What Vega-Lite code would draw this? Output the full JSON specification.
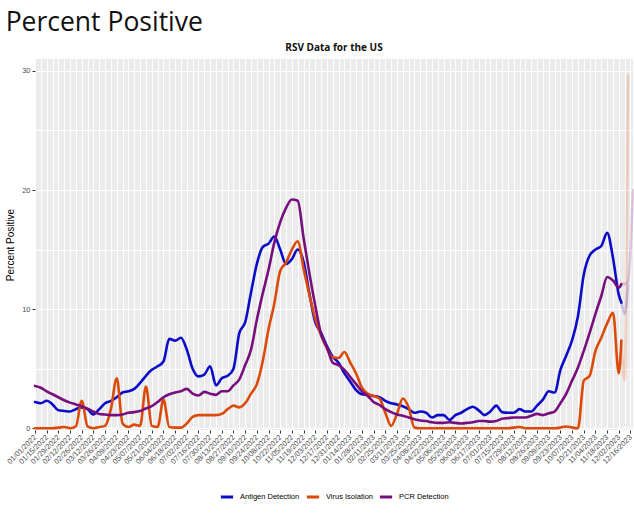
{
  "$schema": "https://vega.github.io/schema/vega-lite/v6.json",
  "padding": {"left": 5, "top": 10, "right": 0, "bottom": 5},
  "background": "white",
  "title": {"text": "Percent Positive", "anchor": "start", "font": "Open Sans", "fontSize": 26.5, "fontWeight": "normal", "color": "#111111", "offset": 6.5, "frame": "bounds"},
  "config": {"view": {"fill": "#EBEBEB", "stroke": null}, "font": "Liberation Sans"},
  "vconcat": [
    {
      "title": {"text": "RSV Data for the US", "anchor": "middle", "font": "Open Sans", "fontSize": 10, "fontWeight": "bold", "color": "#111111", "offset": 6},
      "width": 598,
      "height": 371,
      "data": {"values": [
        {"d": "2022-01-01", "Antigen Detection": 2.2, "Virus Isolation": 0, "PCR Detection": 3.55, "st": "final"},
        {"d": "2022-01-08", "Antigen Detection": 2.1, "Virus Isolation": 0, "PCR Detection": 3.4, "st": "final"},
        {"d": "2022-01-15", "Antigen Detection": 2.3, "Virus Isolation": 0, "PCR Detection": 3.1, "st": "final"},
        {"d": "2022-01-22", "Antigen Detection": 2.0, "Virus Isolation": 0, "PCR Detection": 2.85, "st": "final"},
        {"d": "2022-01-29", "Antigen Detection": 1.5, "Virus Isolation": 0.05, "PCR Detection": 2.6, "st": "final"},
        {"d": "2022-02-05", "Antigen Detection": 1.45, "Virus Isolation": 0.1, "PCR Detection": 2.35, "st": "final"},
        {"d": "2022-02-12", "Antigen Detection": 1.4, "Virus Isolation": 0, "PCR Detection": 2.15, "st": "final"},
        {"d": "2022-02-19", "Antigen Detection": 1.6, "Virus Isolation": 0.15, "PCR Detection": 2.0, "st": "final"},
        {"d": "2022-02-26", "Antigen Detection": 1.75, "Virus Isolation": 2.3, "PCR Detection": 1.85, "st": "final"},
        {"d": "2022-03-05", "Antigen Detection": 1.6, "Virus Isolation": 0.15, "PCR Detection": 1.65, "st": "final"},
        {"d": "2022-03-12", "Antigen Detection": 1.15, "Virus Isolation": 0, "PCR Detection": 1.4, "st": "final"},
        {"d": "2022-03-19", "Antigen Detection": 1.6, "Virus Isolation": 0.1, "PCR Detection": 1.2, "st": "final"},
        {"d": "2022-03-26", "Antigen Detection": 2.1, "Virus Isolation": 0.2, "PCR Detection": 1.15, "st": "final"},
        {"d": "2022-04-02", "Antigen Detection": 2.3, "Virus Isolation": 1.6, "PCR Detection": 1.1, "st": "final"},
        {"d": "2022-04-09", "Antigen Detection": 2.6, "Virus Isolation": 4.2, "PCR Detection": 1.1, "st": "final"},
        {"d": "2022-04-16", "Antigen Detection": 3.0, "Virus Isolation": 0.4, "PCR Detection": 1.15, "st": "final"},
        {"d": "2022-04-23", "Antigen Detection": 3.1, "Virus Isolation": 0.1, "PCR Detection": 1.3, "st": "final"},
        {"d": "2022-04-30", "Antigen Detection": 3.3, "Virus Isolation": 0.3, "PCR Detection": 1.35, "st": "final"},
        {"d": "2022-05-07", "Antigen Detection": 3.8, "Virus Isolation": 0.2, "PCR Detection": 1.45, "st": "final"},
        {"d": "2022-05-14", "Antigen Detection": 4.4, "Virus Isolation": 3.5, "PCR Detection": 1.65, "st": "final"},
        {"d": "2022-05-21", "Antigen Detection": 4.9, "Virus Isolation": 0.2, "PCR Detection": 1.85, "st": "final"},
        {"d": "2022-05-28", "Antigen Detection": 5.2, "Virus Isolation": 0.1, "PCR Detection": 2.2, "st": "final"},
        {"d": "2022-06-04", "Antigen Detection": 5.6, "Virus Isolation": 2.4, "PCR Detection": 2.6, "st": "final"},
        {"d": "2022-06-11", "Antigen Detection": 7.5, "Virus Isolation": 0.1, "PCR Detection": 2.85, "st": "final"},
        {"d": "2022-06-18", "Antigen Detection": 7.35, "Virus Isolation": 0.05, "PCR Detection": 3.0, "st": "final"},
        {"d": "2022-06-25", "Antigen Detection": 7.6, "Virus Isolation": 0.05, "PCR Detection": 3.1, "st": "final"},
        {"d": "2022-07-02", "Antigen Detection": 6.6, "Virus Isolation": 0.4, "PCR Detection": 3.3, "st": "final"},
        {"d": "2022-07-09", "Antigen Detection": 5.0, "Virus Isolation": 0.95, "PCR Detection": 2.9, "st": "final"},
        {"d": "2022-07-16", "Antigen Detection": 4.35, "Virus Isolation": 1.1, "PCR Detection": 2.75, "st": "final"},
        {"d": "2022-07-23", "Antigen Detection": 4.5, "Virus Isolation": 1.1, "PCR Detection": 3.05, "st": "final"},
        {"d": "2022-07-30", "Antigen Detection": 5.2, "Virus Isolation": 1.1, "PCR Detection": 2.9, "st": "final"},
        {"d": "2022-08-06", "Antigen Detection": 3.6, "Virus Isolation": 1.1, "PCR Detection": 2.8, "st": "final"},
        {"d": "2022-08-13", "Antigen Detection": 4.2, "Virus Isolation": 1.2, "PCR Detection": 3.1, "st": "final"},
        {"d": "2022-08-20", "Antigen Detection": 4.4, "Virus Isolation": 1.6, "PCR Detection": 3.1, "st": "final"},
        {"d": "2022-08-27", "Antigen Detection": 5.0, "Virus Isolation": 1.9, "PCR Detection": 3.6, "st": "final"},
        {"d": "2022-09-03", "Antigen Detection": 8.0, "Virus Isolation": 1.75, "PCR Detection": 4.1, "st": "final"},
        {"d": "2022-09-10", "Antigen Detection": 8.9, "Virus Isolation": 2.1, "PCR Detection": 5.3, "st": "final"},
        {"d": "2022-09-17", "Antigen Detection": 11.4, "Virus Isolation": 2.9, "PCR Detection": 6.6, "st": "final"},
        {"d": "2022-09-24", "Antigen Detection": 13.8, "Virus Isolation": 3.7, "PCR Detection": 9.1, "st": "final"},
        {"d": "2022-10-01", "Antigen Detection": 15.2, "Virus Isolation": 5.6, "PCR Detection": 11.3, "st": "final"},
        {"d": "2022-10-08", "Antigen Detection": 15.5, "Virus Isolation": 8.3, "PCR Detection": 13.3, "st": "final"},
        {"d": "2022-10-15", "Antigen Detection": 16.1, "Virus Isolation": 10.5, "PCR Detection": 15.6, "st": "final"},
        {"d": "2022-10-22", "Antigen Detection": 15.0, "Virus Isolation": 13.2, "PCR Detection": 17.3, "st": "final"},
        {"d": "2022-10-29", "Antigen Detection": 13.8, "Virus Isolation": 13.9, "PCR Detection": 18.5, "st": "final"},
        {"d": "2022-11-05", "Antigen Detection": 14.2, "Virus Isolation": 15.0, "PCR Detection": 19.2, "st": "final"},
        {"d": "2022-11-12", "Antigen Detection": 15.0, "Virus Isolation": 15.7, "PCR Detection": 19.1, "st": "final"},
        {"d": "2022-11-19", "Antigen Detection": 14.0, "Virus Isolation": 13.4, "PCR Detection": 16.0, "st": "final"},
        {"d": "2022-11-26", "Antigen Detection": 11.3, "Virus Isolation": 11.2, "PCR Detection": 13.0, "st": "final"},
        {"d": "2022-12-03", "Antigen Detection": 8.9, "Virus Isolation": 9.2, "PCR Detection": 10.3, "st": "final"},
        {"d": "2022-12-10", "Antigen Detection": 8.0, "Virus Isolation": 7.8, "PCR Detection": 7.9, "st": "final"},
        {"d": "2022-12-17", "Antigen Detection": 6.9, "Virus Isolation": 6.7, "PCR Detection": 6.8, "st": "final"},
        {"d": "2022-12-24", "Antigen Detection": 6.0, "Virus Isolation": 5.95, "PCR Detection": 5.5, "st": "final"},
        {"d": "2022-12-31", "Antigen Detection": 5.5, "Virus Isolation": 5.9, "PCR Detection": 5.3, "st": "final"},
        {"d": "2023-01-07", "Antigen Detection": 4.6, "Virus Isolation": 6.4, "PCR Detection": 4.9, "st": "final"},
        {"d": "2023-01-14", "Antigen Detection": 3.9, "Virus Isolation": 5.5, "PCR Detection": 4.3, "st": "final"},
        {"d": "2023-01-21", "Antigen Detection": 3.2, "Virus Isolation": 4.6, "PCR Detection": 3.7, "st": "final"},
        {"d": "2023-01-28", "Antigen Detection": 2.85, "Virus Isolation": 3.4, "PCR Detection": 3.1, "st": "final"},
        {"d": "2023-02-04", "Antigen Detection": 2.8, "Virus Isolation": 2.9, "PCR Detection": 2.7, "st": "final"},
        {"d": "2023-02-11", "Antigen Detection": 2.7, "Virus Isolation": 2.7, "PCR Detection": 2.2, "st": "final"},
        {"d": "2023-02-18", "Antigen Detection": 2.6, "Virus Isolation": 2.5, "PCR Detection": 1.95, "st": "final"},
        {"d": "2023-02-25", "Antigen Detection": 2.3, "Virus Isolation": 1.3, "PCR Detection": 1.6, "st": "final"},
        {"d": "2023-03-04", "Antigen Detection": 2.1, "Virus Isolation": 0.2, "PCR Detection": 1.35, "st": "final"},
        {"d": "2023-03-11", "Antigen Detection": 2.0, "Virus Isolation": 1.2, "PCR Detection": 1.15, "st": "final"},
        {"d": "2023-03-18", "Antigen Detection": 1.85, "Virus Isolation": 2.5, "PCR Detection": 1.05, "st": "final"},
        {"d": "2023-03-25", "Antigen Detection": 1.6, "Virus Isolation": 1.75, "PCR Detection": 0.9, "st": "final"},
        {"d": "2023-04-01", "Antigen Detection": 1.3, "Virus Isolation": 0.05, "PCR Detection": 0.75, "st": "final"},
        {"d": "2023-04-08", "Antigen Detection": 1.4, "Virus Isolation": 0, "PCR Detection": 0.65, "st": "final"},
        {"d": "2023-04-15", "Antigen Detection": 1.3, "Virus Isolation": 0, "PCR Detection": 0.6, "st": "final"},
        {"d": "2023-04-22", "Antigen Detection": 0.9, "Virus Isolation": 0, "PCR Detection": 0.5, "st": "final"},
        {"d": "2023-04-29", "Antigen Detection": 1.1, "Virus Isolation": 0, "PCR Detection": 0.45, "st": "final"},
        {"d": "2023-05-06", "Antigen Detection": 1.1, "Virus Isolation": 0, "PCR Detection": 0.45, "st": "final"},
        {"d": "2023-05-13", "Antigen Detection": 0.7, "Virus Isolation": 0, "PCR Detection": 0.5, "st": "final"},
        {"d": "2023-05-20", "Antigen Detection": 1.1, "Virus Isolation": 0, "PCR Detection": 0.45, "st": "final"},
        {"d": "2023-05-27", "Antigen Detection": 1.3, "Virus Isolation": 0, "PCR Detection": 0.4, "st": "final"},
        {"d": "2023-06-03", "Antigen Detection": 1.6, "Virus Isolation": 0, "PCR Detection": 0.45, "st": "final"},
        {"d": "2023-06-10", "Antigen Detection": 1.8, "Virus Isolation": 0, "PCR Detection": 0.5, "st": "final"},
        {"d": "2023-06-17", "Antigen Detection": 1.5, "Virus Isolation": 0, "PCR Detection": 0.6, "st": "final"},
        {"d": "2023-06-24", "Antigen Detection": 1.1, "Virus Isolation": 0, "PCR Detection": 0.6, "st": "final"},
        {"d": "2023-07-01", "Antigen Detection": 1.4, "Virus Isolation": 0, "PCR Detection": 0.55, "st": "final"},
        {"d": "2023-07-08", "Antigen Detection": 1.9, "Virus Isolation": 0, "PCR Detection": 0.6, "st": "final"},
        {"d": "2023-07-15", "Antigen Detection": 1.35, "Virus Isolation": 0, "PCR Detection": 0.8, "st": "final"},
        {"d": "2023-07-22", "Antigen Detection": 1.3, "Virus Isolation": 0, "PCR Detection": 0.85, "st": "final"},
        {"d": "2023-07-29", "Antigen Detection": 1.3, "Virus Isolation": 0.05, "PCR Detection": 0.9, "st": "final"},
        {"d": "2023-08-05", "Antigen Detection": 1.6, "Virus Isolation": 0.1, "PCR Detection": 0.9, "st": "final"},
        {"d": "2023-08-12", "Antigen Detection": 1.4, "Virus Isolation": 0, "PCR Detection": 0.9, "st": "final"},
        {"d": "2023-08-19", "Antigen Detection": 1.4, "Virus Isolation": 0, "PCR Detection": 1.05, "st": "final"},
        {"d": "2023-08-26", "Antigen Detection": 1.9, "Virus Isolation": 0, "PCR Detection": 1.2, "st": "final"},
        {"d": "2023-09-02", "Antigen Detection": 2.4, "Virus Isolation": 0, "PCR Detection": 1.1, "st": "final"},
        {"d": "2023-09-09", "Antigen Detection": 3.1, "Virus Isolation": 0, "PCR Detection": 1.25, "st": "final"},
        {"d": "2023-09-16", "Antigen Detection": 3.0, "Virus Isolation": 0, "PCR Detection": 1.4, "st": "final"},
        {"d": "2023-09-23", "Antigen Detection": 4.9, "Virus Isolation": 0.05, "PCR Detection": 2.1, "st": "final"},
        {"d": "2023-09-30", "Antigen Detection": 6.1, "Virus Isolation": 0.15, "PCR Detection": 2.9, "st": "final"},
        {"d": "2023-10-07", "Antigen Detection": 7.4, "Virus Isolation": 0.05, "PCR Detection": 4.0, "st": "final"},
        {"d": "2023-10-14", "Antigen Detection": 9.4, "Virus Isolation": 0, "PCR Detection": 5.1, "st": "final"},
        {"d": "2023-10-21", "Antigen Detection": 12.9, "Virus Isolation": 4.0, "PCR Detection": 6.5, "st": "final"},
        {"d": "2023-10-28", "Antigen Detection": 14.5, "Virus Isolation": 4.4, "PCR Detection": 8.0, "st": "final"},
        {"d": "2023-11-04", "Antigen Detection": 15.0, "Virus Isolation": 6.5, "PCR Detection": 9.6, "st": "final"},
        {"d": "2023-11-11", "Antigen Detection": 15.3, "Virus Isolation": 7.6, "PCR Detection": 11.1, "st": "final"},
        {"d": "2023-11-18", "Antigen Detection": 16.4, "Virus Isolation": 8.8, "PCR Detection": 12.7, "st": "final"},
        {"d": "2023-11-25", "Antigen Detection": 14.3, "Virus Isolation": 9.7, "PCR Detection": 12.4, "st": "final"},
        {"d": "2023-12-02", "Antigen Detection": 11.2, "Virus Isolation": 4.6, "PCR Detection": 11.8, "st": "final"},
        {"d": "2023-12-05", "Antigen Detection": 10.55, "Virus Isolation": 7.35, "PCR Detection": 12.1, "st": "final"},
        {"d": "2023-12-05", "Antigen Detection": 10.55, "Virus Isolation": 7.35, "PCR Detection": 12.1, "st": "provisional"},
        {"d": "2023-12-09", "Antigen Detection": 9.6, "Virus Isolation": 4.0, "PCR Detection": 12.1, "st": "provisional"},
        {"d": "2023-12-13", "Antigen Detection": 12.0, "Virus Isolation": 29.6, "PCR Detection": 12.3, "st": "provisional"},
        {"d": "2023-12-19", "Antigen Detection": null, "Virus Isolation": null, "PCR Detection": 20, "st": "provisional"}
      ]},
      "transform": [{"fold": ["Antigen Detection", "Virus Isolation", "PCR Detection"], "as": ["series", "value"]}],
      "mark": {"type": "line", "interpolate": "monotone", "strokeWidth": 2.6, "strokeCap": "round"},
      "encoding": {
        "x": {
          "field": "d", "type": "temporal",
          "scale": {"type": "utc", "domain": [1640995200000, 1702944000000], "nice": false},
          "axis": {
            "values": [1640995200000,1641600000000,1642204800000,1642809600000,1643414400000,1644019200000,1644624000000,1645228800000,1645833600000,1646438400000,1647043200000,1647648000000,1648252800000,1648857600000,1649462400000,1650067200000,1650672000000,1651276800000,1651881600000,1652486400000,1653091200000,1653696000000,1654300800000,1654905600000,1655510400000,1656115200000,1656720000000,1657324800000,1657929600000,1658534400000,1659139200000,1659744000000,1660348800000,1660953600000,1661558400000,1662163200000,1662768000000,1663372800000,1663977600000,1664582400000,1665187200000,1665792000000,1666396800000,1667001600000,1667606400000,1668211200000,1668816000000,1669420800000,1670025600000,1670630400000,1671235200000,1671840000000,1672444800000,1673049600000,1673654400000,1674259200000,1674864000000,1675468800000,1676073600000,1676678400000,1677283200000,1677888000000,1678492800000,1679097600000,1679702400000,1680307200000,1680912000000,1681516800000,1682121600000,1682726400000,1683331200000,1683936000000,1684540800000,1685145600000,1685750400000,1686355200000,1686960000000,1687564800000,1688169600000,1688774400000,1689379200000,1689984000000,1690588800000,1691193600000,1691798400000,1692403200000,1693008000000,1693612800000,1694217600000,1694822400000,1695427200000,1696032000000,1696636800000,1697241600000,1697846400000,1698451200000,1699056000000,1699660800000,1700265600000,1700870400000,1701475200000,1702080000000,1702684800000],
            "labelExpr": "round((datum.value - 1640995200000) / 604800000) % 2 == 0 ? utcFormat(datum.value, '%m/%d/%Y') : ''",
            "labelAngle": -45,
            "labelAlign": "right",
            "labelBaseline": "middle",
            "labelFontSize": 7.5,
            "labelColor": "#4D4D4D",
            "labelOverlap": false,
            "labelPadding": 3,
            "labelBound": false,
            "labelFlush": false,
            "tickColor": {"condition": {"test": "round((datum.value - 1640995200000) / 604800000) % 2 == 1", "value": "transparent"}, "value": "#333333"},
            "tickSize": 3,
            "grid": true,
            "gridColor": "#FFFFFF",
            "gridWidth": 1,
            "domain": false,
            "title": null
          }
        },
        "y": {
          "field": "value", "type": "quantitative",
          "scale": {"domain": [-0.15, 31], "nice": false, "zero": false},
          "axis": {
            "values": [0, 5, 10, 15, 20, 25, 30],
            "labelExpr": "datum.value % 10 == 0 ? datum.label : ''",
            "tickColor": {"condition": {"test": "datum.value % 10 != 0", "value": "transparent"}, "value": "#333333"},
            "tickSize": 3,
            "grid": true,
            "gridColor": "#FFFFFF",
            "gridWidth": 1,
            "domain": false,
            "labelFontSize": 7.5,
            "labelColor": "#4D4D4D",
            "labelPadding": 2,
            "title": "Percent Positive",
            "titleFont": "Liberation Sans",
            "titleFontSize": 10,
            "titleFontWeight": "normal",
            "titleColor": "#000000",
            "titlePadding": 6
          }
        },
        "color": {
          "field": "series", "type": "nominal",
          "scale": {"domain": ["Antigen Detection", "Virus Isolation", "PCR Detection"], "range": ["#0c0cc8", "#dc4a0a", "#760f7d"]},
          "legend": {
            "orient": "none", "legendX": 184, "legendY": 430,
            "direction": "horizontal", "title": null,
            "symbolType": "stroke", "symbolStrokeWidth": 3, "symbolSize": 150,
            "labelFontSize": 7.5, "labelColor": "#000000", "columnPadding": 0,
            "labelOffset": 5
          }
        },
        "opacity": {
          "field": "st", "type": "nominal",
          "scale": {"domain": ["final", "provisional"], "range": [1, 0.2]},
          "legend": null
        }
      }
    }
  ]
}
